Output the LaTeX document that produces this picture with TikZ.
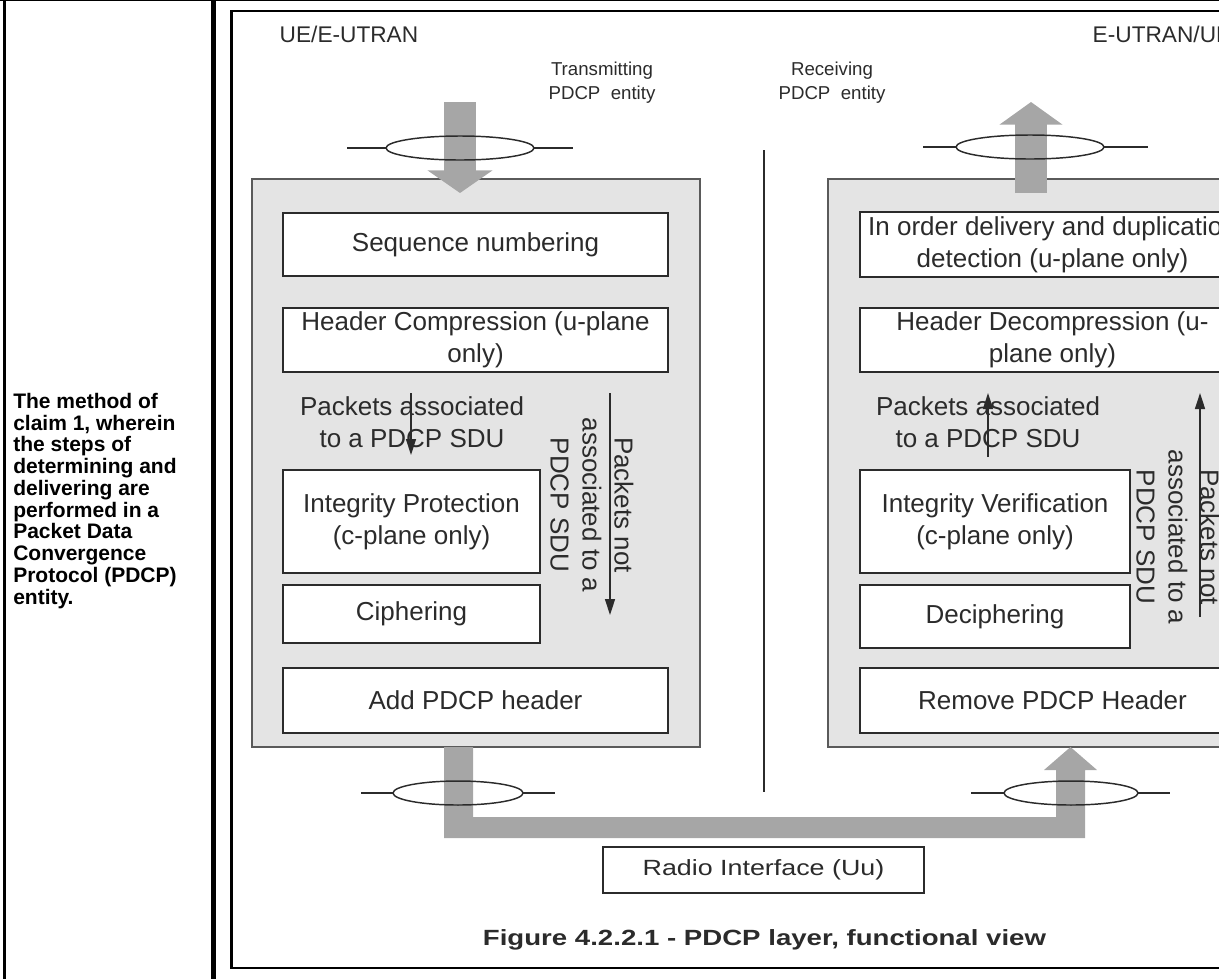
\documentclass[tikz,border=0pt]{standalone}
\usepackage{graphicx}
\usepackage{fontspec}
\setmainfont{Liberation Sans}
\usetikzlibrary{arrows.meta}
\definecolor{panel}{HTML}{E4E4E4}
\definecolor{pipe}{HTML}{A6A6A6}
\definecolor{edge}{HTML}{5A5A5A}
\definecolor{ink}{HTML}{2B2B2B}
\newcommand{\boxfont}{\fontsize{19.5pt}{24pt}\selectfont}
\begin{document}
\begin{tikzpicture}[x=0.75pt,y=-0.75pt,
    boxwh/.style 2 args={minimum width=#1*0.75pt,minimum height=#2*0.75pt},
    entity/.style={draw=edge,fill=panel,line width=1.5pt,inner sep=0pt,outer sep=0pt},
    func/.style={draw=ink,fill=white,line width=1.5pt,inner sep=0pt,outer sep=0pt,align=center,font=\boxfont,text=ink},
    note/.style={align=center,font=\boxfont,text=ink,inner sep=0pt},
    flowline/.style={line width=1.1pt,draw=ink,-{Triangle[width=7.5pt,length=12pt]}},
    bigarrow/.style={draw=pipe,line width=24pt},
    sap/.style={draw=ink,line width=1.1pt}]
  \useasboundingbox (0,0) rectangle (1219,979);
  \clip (0,0) rectangle (1219,979);
  % table cell and figure frame
  \fill (0,0) rectangle (1219,1.3);
  \fill (3,0) rectangle (6,979);
  \fill (211,0) rectangle (216,979);
  \draw[line width=1.9pt] (231.3,11.2) rectangle (1260,968);
  \node[anchor=north west,align=left,inner sep=0pt,font=\bfseries\fontsize{15.75pt}{16.3pt}\selectfont] (claim) at (13,393)
    {The method of\\claim 1, wherein\\the steps of\\determining and\\delivering are\\performed in a\\Packet Data\\Convergence\\Protocol (PDCP)\\entity.};
  % entities
  \node[entity,boxwh={448}{568}] (tx) at (476,463) {};
  \node[entity,boxwh={448}{568}] (rx) at (1052,463) {};
  \node[anchor=base west,font=\fontsize{17pt}{20pt}\selectfont,text=ink] (ueleft) at (275,42) {UE/E-UTRAN};
  \node[anchor=base west,font=\fontsize{17pt}{20pt}\selectfont,text=ink] (ueright) at (1088,42) {E-UTRAN/UE};
  \node[note,font=\fontsize{14pt}{18pt}\selectfont] (txent) at (602,83) {Transmitting\\PDCP\ \ entity};
  \node[note,font=\fontsize{14pt}{18pt}\selectfont] (rxent) at (832,83) {Receiving\\PDCP\ \ entity};
  \coordinate (divtop) at (764,150);
  \coordinate (divbot) at (764,792);
  \draw[line width=1.1pt,draw=ink] (divtop) -- (divbot);
  % SDU flow in and out
  \coordinate (txsdu) at (460,102);
  \coordinate (txin) at (460,193);
  \coordinate (rxout) at (1031,193);
  \coordinate (rxsdu) at (1031,102);
  \draw[bigarrow,-{Triangle[width=48pt,length=17pt]}] (txsdu) -- (txin);
  \draw[bigarrow,-{Triangle[width=46.5pt,length=17pt]}] (rxout) -- (rxsdu);
  \fill[pipe] (444,747) -- (473,747) -- (473,817) -- (1056,817) -- (1056,770) -- (1044,770) -- (1070.5,747)
    -- (1097,770) -- (1085,770) -- (1085,838) -- (444,838) -- cycle;
  \foreach \cx/\cy/\rx/\la/\lb in {460/148/74/347/573, 1030/147/74/923/1148, 458/793/65/361/555, 1071/793/67/971/1170}{
    \draw[sap] (\cx,\cy) ellipse [x radius=\rx, y radius=12];
    \draw[sap] (\la,\cy) -- (\cx-\rx,\cy) (\cx+\rx,\cy) -- (\lb,\cy);
  }
  % transmitting side
  \node[func,boxwh={385}{63}] (seqnum) at (475.5,244.5) {Sequence numbering};
  \node[func,boxwh={385}{64}] (hdrcomp) at (475.5,340) {Header Compression (u-plane\\only)};
  \node[func,boxwh={257}{103}] (intprot) at (411.5,521.5) {Integrity Protection\\(c-plane only)};
  \node[func,boxwh={257}{58}] (cipher) at (411.5,614) {Ciphering};
  \node[func,boxwh={385}{65}] (addhdr) at (475.5,700.5) {Add PDCP header};
  \node[note] (assoctx) at (412,422) {Packets associated\\to a PDCP SDU};
  \node[note,rotate=-90] (notassoctx) at (592,505) {Packets not\\associated to a\\PDCP SDU};
  \coordinate (tx1) at (411,393);
  \coordinate (tx2) at (411,455);
  \coordinate (tx3) at (610,393);
  \coordinate (tx4) at (610,615);
  \draw[flowline] (tx1) -- (tx2);
  \draw[flowline] (tx3) -- (tx4);
  % receiving side
  \node[func,boxwh={385}{65}] (inorder) at (1052.5,244.5) {In order delivery and duplication\\detection (u-plane only)};
  \node[func,boxwh={385}{64}] (hdrdecomp) at (1052.5,340) {Header Decompression (u-\\plane only)};
  \node[func,boxwh={270}{103}] (intver) at (995,521.5) {Integrity Verification\\(c-plane only)};
  \node[func,boxwh={270}{63}] (decipher) at (995,616.5) {Deciphering};
  \node[func,boxwh={385}{65}] (rmhdr) at (1052.5,700.5) {Remove PDCP Header};
  \node[note] (assocrx) at (988,422) {Packets associated\\to a PDCP SDU};
  \node[note,rotate=-90] (notassocrx) at (1178,537) {Packets not\\associated to a\\PDCP SDU};
  \coordinate (rx1) at (988,457);
  \coordinate (rx2) at (988,393);
  \coordinate (rx3) at (1200,617);
  \coordinate (rx4) at (1200,393);
  \draw[flowline] (rx1) -- (rx2);
  \draw[flowline] (rx3) -- (rx4);
  % radio interface and caption
  \node[func,boxwh={321}{46},font=\fontsize{16.5pt}{20pt}\selectfont] (radio) at (763.5,870) {\scalebox{1.22}[1]{Radio Interface (Uu)}};
  \node[text=ink,font=\bfseries\fontsize{16.5pt}{20pt}\selectfont] (caption) at (764.5,940) {\scalebox{1.255}[1]{Figure 4.2.2.1 - PDCP layer, functional view}};
\end{tikzpicture}
\end{document}
